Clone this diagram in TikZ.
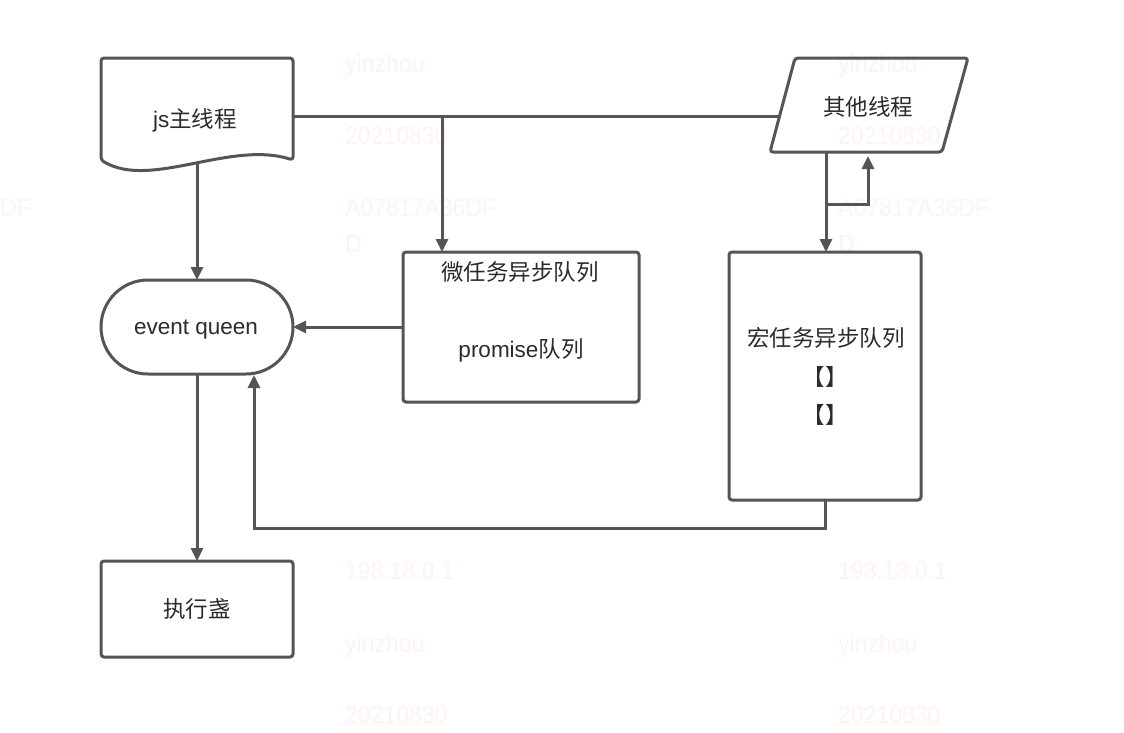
\documentclass[tikz,border=0pt]{standalone}
\usepackage{fontspec}
\setmainfont{Liberation Sans}
\newfontfamily\cjk{Noto Sans CJK SC}
\usetikzlibrary{arrows.meta}
\definecolor{lc}{HTML}{555555}
\definecolor{tc}{HTML}{2B2B2B}
\definecolor{wmc}{HTML}{FEF3F1}
\tikzset{
  conn/.style={draw=lc, line width=3pt},
  arr/.style={conn, -{Triangle[length=13pt,width=12pt]}},
  shp/.style={draw=lc, line width=3pt, rounded corners=3pt, inner sep=0pt, outer sep=0pt},
  lbl/.style={text=tc, font=\fontsize{22.5}{26}\selectfont, inner sep=0pt, text height=17pt, text depth=5pt},
  wm/.style={text=wmc, font=\fontsize{25}{30}\selectfont, inner sep=0pt, anchor=base west, xscale=0.92},
}
\begin{document}
\begin{tikzpicture}[x=1pt,y=-1pt]
\useasboundingbox (0,0) rectangle (1124,732);
\clip (0,0) rectangle (1124,732);
\fill[white] (0,0) rectangle (1124,732);
% watermark
\node[wm, anchor=base east] (wha) at (31,216) {A07817A36DF};
\foreach \cx/\nm in {345/b,838/c}{
  \node[wm] (wy\nm) at (\cx,72) {yinzhou};
  \node[wm] (wd\nm) at (\cx,144) {20210830};
  \node[wm] (wh\nm) at (\cx,216) {A07817A36DF};
  \node[wm] (wD\nm) at (\cx,252) {D};
  \node[wm] (wi\nm) at (\cx,579) {198.18.0.1};
  \node[wm] (wz\nm) at (\cx,652) {yinzhou};
  \node[wm] (we\nm) at (\cx,723) {20210830};
}
% js main thread (document shape)
\draw[shp] (101,160) -- (101,58) -- (293,58) -- (293,160)
  .. controls (230,140) and (150,190) .. (101,160) -- cycle;
\node[inner sep=0pt, minimum width=192pt, minimum height=102pt] (js) at (197,109) {};
\node[lbl] (jsT) at (195,121) {js{\cjk 主线程}};
% other thread (parallelogram)
\draw[shp] (770,152) -- (795,58) -- (968,58) -- (942,152) -- cycle;
\node[lbl] (otT) at (868,109.5) {\cjk 其他线程};
% boxes
\node[shp, minimum width=192pt, minimum height=94pt, rounded corners=47pt] (eq) at (197,327) {};
\node[lbl] (eqT) at (196,328) {event queen};
\node[shp, minimum width=236pt, minimum height=150pt] (micro) at (521,327) {};
\node[lbl] (miT) at (520,274) {\cjk 微任务异步队列};
\node[lbl] (prT) at (521,351) {promise{\cjk 队列}};
\node[shp, minimum width=192pt, minimum height=248pt] (macro) at (825,376) {};
\node[lbl] (maT) at (826,340) {\cjk 宏任务异步队列};
\node[lbl] (b1) at (825,379) {\cjk 【】};
\node[lbl] (b2) at (825,417) {\cjk 【】};
\node[shp, minimum width=192pt, minimum height=96pt] (exec) at (197,609) {};
\node[lbl] (exT) at (197,611) {\cjk 执行盏};
% connectors
\coordinate (jsE) at (293,116);
\coordinate (otW) at (780,116);
\coordinate (jct) at (442,116);
\coordinate (jsS) at (197,164);
\coordinate (otS) at (826,152);
\coordinate (lpA) at (826,204);
\coordinate (lpB) at (868,204);
\coordinate (lpC) at (868,156);
\coordinate (rtB) at (254,528);
\coordinate (rtT) at (254,375);
\draw[conn] (jsE) -- (otW);
\draw[arr] (jct) -- (jct |- micro.north);
\draw[arr] (jsS) -- (jsS |- eq.north);
\draw[arr] (micro.west) -- (eq.east);
\draw[arr] (eq.south) -- (exec.north);
\draw[arr] (otS) -- (otS |- macro.north);
\draw[arr] (lpA) -- (lpB) -- (lpC);
\draw[arr] (macro.south) |- (rtB) -- (rtT);
\end{tikzpicture}
\end{document}
